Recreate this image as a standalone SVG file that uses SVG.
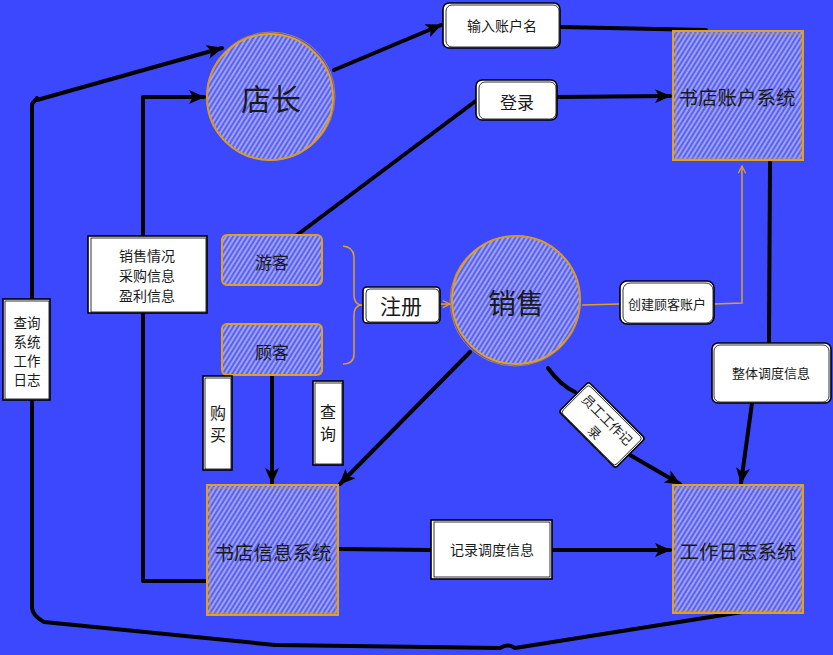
<svg xmlns="http://www.w3.org/2000/svg" width="833" height="655" viewBox="0 0 833 655">
  <defs>
    <pattern id="hatch" patternUnits="userSpaceOnUse" width="4" height="4" patternTransform="rotate(-58)">
      <rect width="4" height="4" fill="#5a62f3"/>
      <line x1="0" y1="1" x2="4" y2="1" stroke="#c4c4ef" stroke-width="1.3"/>
    </pattern>
    <marker id="arr" viewBox="0 0 16 14" refX="15" refY="7" markerWidth="16" markerHeight="14" markerUnits="userSpaceOnUse" orient="auto">
      <path d="M0,0 L16,7 L0,14 L4,7 Z" fill="#000"/>
    </marker>
    <marker id="arrO" viewBox="0 0 10 10" refX="9" refY="5" markerWidth="9" markerHeight="9" markerUnits="userSpaceOnUse" orient="auto">
      <path d="M1,1 L9,5 L1,9" fill="none" stroke="#e0a020" stroke-width="1.4"/>
    </marker>
    <style>
      .node { fill: url(#hatch); stroke: #e0a020; stroke-width: 2; }
      .node2 { fill: none; stroke: #c9913a; stroke-width: 1; opacity: 0.8; }
      .lbl { fill: #fff; stroke: #000; stroke-width: 1.6; }
      .lbl2 { fill: none; stroke: #000; stroke-width: 0.8; }
      .wire { fill: none; stroke: #000; stroke-width: 4; stroke-linecap: round; stroke-linejoin: round; }
      .owire { fill: none; stroke: #e0a020; stroke-width: 1.5; }
      text { font-family: "Noto Sans CJK SC", "Noto Sans", sans-serif; fill: #1a1a1a; text-anchor: middle; dominant-baseline: central; }
      .t14 { font-size: 14px; }
      .t13 { font-size: 13px; }
      .t18 { font-size: 19.5px; }
    </style>
  </defs>

  <rect width="833" height="655" fill="#3c48fd"/>

  <!-- connectors -->
  <g id="connectors">
    <!-- outer left loop to 店长 -->
    <path class="wire" d="M37,100 L222,48" marker-end="url(#arr)"/>
    <path class="wire" d="M37,98 L32,104 L32,608 Q33,616 44,622 L275,645 L500,648 Q508,643 515,648 L742,612"/>
    <!-- inner left line to 店长 and 书店信息系统 -->
    <path class="wire" d="M207,581 L143,581 L143,97 L204,97" marker-end="url(#arr)"/>
    <!-- 店长 -> 输入账户名 -> 书店账户系统 -->
    <path class="wire" d="M334,70 L441,25" marker-end="url(#arr)"/>
    <path class="wire" d="M560,27 L706,30"/>
    <!-- 游客 -> 登录 -> 书店账户系统 -->
    <path class="wire" d="M297,235 L477,100"/>
    <path class="wire" d="M557,97 L670,96" marker-end="url(#arr)"/>
    <!-- 书店账户系统 -> 整体调度信息 -> 工作日志系统 -->
    <path class="wire" d="M770,162 L769,343"/>
    <path class="wire" d="M752,403 L741,483" marker-end="url(#arr)"/>
    <!-- 顾客 -> 书店信息系统 -->
    <path class="wire" d="M272,376 L272,483" marker-end="url(#arr)"/>
    <!-- 销售 -> 书店信息系统 -->
    <path class="wire" d="M470,352 L340,484" marker-end="url(#arr)"/>
    <!-- 销售 -> 员工工作记录 -> 工作日志系统 -->
    <path class="wire" d="M548,368 Q560,385 575,392"/>
    <path class="wire" d="M630,455 L680,484" marker-end="url(#arr)"/>
    <!-- 书店信息系统 -> 记录调度信息 -> 工作日志系统 -->
    <path class="wire" d="M338,549 L431,550"/>
    <path class="wire" d="M552,550 L670,550" marker-end="url(#arr)"/>
    <!-- brace and orange links -->
    <path class="owire" d="M343,246 Q354,247 354,258 L354,295 Q354,303 360,305 Q354,307 354,315 L354,354 Q354,364 343,364"/>
    <path class="owire" d="M360,305 L450,304" marker-end="url(#arrO)"/>
    <path class="owire" d="M582,305 L620,304"/>
    <path class="owire" d="M714,304 L742,303 L742,166" marker-end="url(#arrO)"/>
  </g>

  <!-- main nodes -->
  <g id="node-dianzhang">
    <circle class="node" cx="270" cy="97" r="63"/>
    <circle class="node2" cx="271" cy="96" r="64"/>
    <text x="271" y="97" style="font-size:30px">店长</text>
  </g>

  <g id="node-zhanghu">
    <rect class="node" x="673" y="31" width="130" height="129"/>
    <rect class="node2" x="676" y="34" width="125" height="124"/>
    <text class="t18" x="737" y="96">书店账户系统</text>
  </g>

  <g id="node-youke">
    <rect class="node" x="222" y="235" width="100" height="50" rx="5"/>
    <text x="272" y="261" style="font-size:17px">游客</text>
  </g>

  <g id="node-guke">
    <rect class="node" x="222" y="324" width="100" height="51" rx="5"/>
    <text x="272" y="351" style="font-size:17px">顾客</text>
  </g>

  <g id="node-xiaoshou">
    <circle class="node" cx="516" cy="300" r="64"/>
    <circle class="node2" cx="515" cy="301" r="65"/>
    <text x="516" y="302" style="font-size:28px">销售</text>
  </g>

  <g id="node-xinxi">
    <rect class="node" x="207" y="485" width="131" height="130"/>
    <rect class="node2" x="210" y="488" width="126" height="125"/>
    <text class="t18" x="273" y="551">书店信息系统</text>
  </g>

  <g id="node-rizhi">
    <rect class="node" x="673" y="485" width="130" height="128"/>
    <rect class="node2" x="676" y="488" width="125" height="123"/>
    <text class="t18" x="738" y="550">工作日志系统</text>
  </g>

  <!-- label boxes -->
  <g id="lbl-shuru">
    <rect class="lbl" x="443" y="3" width="117" height="45" rx="6"/>
    <rect class="lbl2" x="446" y="5" width="113" height="42" rx="6"/>
    <text class="t14" x="502" y="25">输入账户名</text>
  </g>

  <g id="lbl-denglu">
    <rect class="lbl" x="476" y="80" width="81" height="40" rx="6"/>
    <rect class="lbl2" x="479" y="82" width="77" height="37" rx="6"/>
    <text x="517" y="101" style="font-size:17px">登录</text>
  </g>

  <g id="lbl-zhuce">
    <rect class="lbl" x="363" y="287" width="77" height="36" rx="4"/>
    <rect class="lbl2" x="366" y="289" width="73" height="33" rx="4"/>
    <text x="401" y="305" style="font-size:21px">注册</text>
  </g>

  <g id="lbl-chuangjian">
    <rect class="lbl" x="620" y="281" width="94" height="43" rx="7"/>
    <rect class="lbl2" x="623" y="283" width="90" height="40" rx="7"/>
    <text class="t13" x="667" y="303">创建顾客账户</text>
  </g>

  <g id="lbl-xiaoshouqingkuang">
    <rect class="lbl" x="88" y="236" width="119" height="77"/>
    <rect class="lbl2" x="91" y="238" width="115" height="74"/>
    <text class="t14" x="147" y="255">销售情况</text>
    <text class="t14" x="147" y="275">采购信息</text>
    <text class="t14" x="147" y="295">盈利信息</text>
  </g>

  <g id="lbl-chaxunrizhi">
    <rect class="lbl" x="3" y="299" width="47" height="101"/>
    <rect class="lbl2" x="5" y="301" width="44" height="98"/>
    <text x="27" y="322" style="font-size:13.5px">查询</text>
    <text x="27" y="341" style="font-size:13.5px">系统</text>
    <text x="27" y="360" style="font-size:13.5px">工作</text>
    <text x="27" y="379" style="font-size:13.5px">日志</text>
  </g>

  <g id="lbl-goumai">
    <rect class="lbl" x="203" y="376" width="29" height="94"/>
    <rect class="lbl2" x="205" y="378" width="26" height="91"/>
    <text x="218" y="412" style="font-size:16px">购</text>
    <text x="218" y="434" style="font-size:16px">买</text>
  </g>

  <g id="lbl-chaxun">
    <rect class="lbl" x="313" y="381" width="30" height="84"/>
    <rect class="lbl2" x="315" y="383" width="27" height="81"/>
    <text x="328" y="411" style="font-size:16px">查</text>
    <text x="328" y="433" style="font-size:16px">询</text>
  </g>

  <g id="lbl-yuangong" transform="translate(602,425) rotate(45)">
    <rect class="lbl" x="-40" y="-21" width="80" height="42" rx="3"/>
    <rect class="lbl2" x="-38" y="-19" width="76" height="39" rx="3"/>
    <text class="t13" x="0" y="-8">员工工作记</text>
    <text class="t13" x="0" y="10">录</text>
  </g>

  <g id="lbl-zhengti">
    <rect class="lbl" x="712" y="343" width="119" height="60" rx="6"/>
    <rect class="lbl2" x="714" y="345" width="115" height="57" rx="6"/>
    <text class="t13" x="771" y="372">整体调度信息</text>
  </g>

  <g id="lbl-jilu">
    <rect class="lbl" x="431" y="520" width="121" height="59"/>
    <rect class="lbl2" x="434" y="522" width="116" height="55"/>
    <text class="t14" x="492" y="549">记录调度信息</text>
  </g>
</svg>
